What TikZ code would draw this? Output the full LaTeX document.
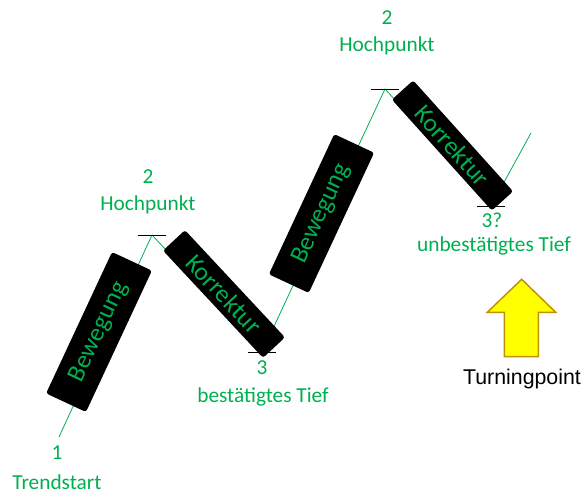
\documentclass[tikz,border=0pt]{standalone}
\usepackage{fontspec}
\setmainfont{Carlito}
\newfontfamily\arialfont{Liberation Sans}
\usepackage{tikz}
\usetikzlibrary{calc}
\definecolor{TrendGreen}{HTML}{00B050}
\definecolor{ArrowYellow}{HTML}{FFFF00}
\definecolor{ArrowGold}{HTML}{BF9000}

\begin{document}
\begin{tikzpicture}[
    x=0.75pt, y=0.75pt,
    trend/.style={
        draw=TrendGreen,
        line width=0.6pt,
    },
    pointtick/.style={
        draw=black,
        line width=0.6pt,
    },
    phasebox/.style={
        fill=black,
        rounded corners=2pt,
        text=TrendGreen,
        font=\fontsize{19}{22}\selectfont,
        inner sep=0pt,
    },
    caption/.style={
        text=TrendGreen,
        font=\fontsize{16}{19}\selectfont,
        inner sep=0pt,
    },
    turnarrow/.style={
        draw=ArrowGold,
        fill=ArrowYellow,
        line width=1.1pt,
        line join=miter,
    },
]
\useasboundingbox (0,0) rectangle (587,494);

% turning points of the trend
\coordinate (start) at (59,57);
\coordinate (hoch1) at (152,259);
\coordinate (tief1) at (262,142);
\coordinate (hoch2) at (385,405);
\coordinate (tief2) at (491,288);
\coordinate (ende)  at (531,361);

\draw[trend] (start) -- (hoch1) -- (tief1) -- (hoch2) -- (tief2) -- (ende);

% small marks at highs and lows
\draw[pointtick] ($(hoch1)+(-14,0)$) -- ($(hoch1)+(14,0)$);
\draw[pointtick] ($(tief1)+(-14,0)$) -- ($(tief1)+(14,0)$);
\draw[pointtick] ($(hoch2)+(-14,0)$) -- ($(hoch2)+(14,0)$);
\draw[pointtick] ($(tief2)+(-14,0)$) -- ($(tief2)+(14,0)$);

% phases
\node[phasebox,minimum width=117pt,minimum height=33pt,rotate=65]    (bew1) at (99,162)      {Bewegung};
\node[phasebox,minimum width=110pt,minimum height=22.5pt,rotate=-47] (kor1) at (224,200)     {Korrektur};
\node[phasebox,minimum width=116pt,minimum height=33pt,rotate=65]    (bew2) at (321.5,280.5) {Bewegung};
\node[phasebox,minimum width=112pt,minimum height=21.5pt,rotate=-48] (kor2) at (452.5,348.5) {Korrektur};

% labels
\node[caption] (n1)  at (57,41)  {1};
\node[caption] (t1)  at (57,12)  {Trendstart};
\node[caption] (n2a) at (148,317) {2};
\node[caption] (t2a) at (148,289) {Hochpunkt};
\node[caption] (n3)  at (262,126) {3};
\node[caption] (t3)  at (263,97)  {bestätigtes Tief};
\node[caption] (n2b) at (387,476) {2};
\node[caption] (t2b) at (387,448) {Hochpunkt};
\node[caption] (n3b) at (492,274) {3?};
\node[caption] (t3b) at (494,248) {unbestätigtes Tief};

% turning point
\draw[turnarrow] (504.3,137.3) -- (504.3,181.7) -- (487.3,181.7) -- (521.7,214.7)
    -- (555.7,181.7) -- (538.3,181.7) -- (538.3,137.3) -- cycle;
\node[font=\arialfont\fontsize{16}{19}\selectfont,inner sep=0pt] (turn) at (522,115) {Turningpoint};
\end{tikzpicture}
\end{document}
